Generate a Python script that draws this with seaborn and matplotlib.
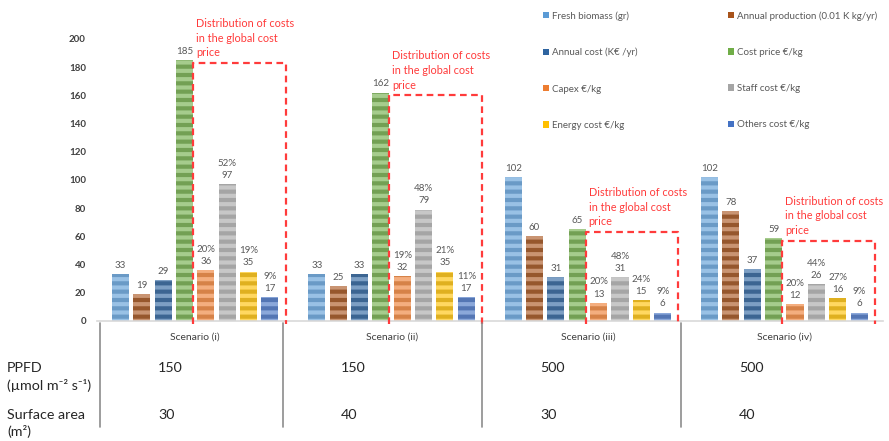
import matplotlib
matplotlib.use("Agg")
import matplotlib.pyplot as plt
import seaborn as sns
import pandas as pd
import numpy as np
from matplotlib.patches import Patch
from matplotlib.lines import Line2D
from matplotlib.colors import to_rgb

# ---- data -------------------------------------------------------------
scenarios = ["Scenario (i)", "Scenario (ii)", "Scenario (iii)", "Scenario (iv)"]
ppfd = ["150", "150", "500", "500"]
surface_area = ["30", "40", "30", "40"]

metrics = [
    "Fresh biomass (gr)",
    "Annual production (0.01 K kg/yr)",
    "Annual cost (K€ /yr)",
    "Cost price €/kg",
    "Capex €/kg",
    "Staff cost €/kg",
    "Energy cost €/kg",
    "Others cost €/kg",
]

fresh_biomass = [33, 33, 102, 102]
annual_production = [19, 25, 60, 78]
annual_cost = [29, 33, 31, 37]
cost_price = [185, 162, 65, 59]
capex = [36, 32, 13, 12]
staff_cost = [97, 79, 31, 26]
energy_cost = [35, 35, 15, 16]
others_cost = [17, 17, 6, 6]

# share of each cost item in the global cost price (%)
capex_share = [20, 19, 20, 20]
staff_share = [52, 48, 48, 44]
energy_share = [19, 21, 24, 27]
others_share = [9, 11, 9, 9]

colors = ["#5B9BD5", "#A8531B", "#2E64A0", "#70AD47",
          "#ED7D31", "#A5A5A5", "#FFC000", "#4472C4"]

series = [fresh_biomass, annual_production, annual_cost, cost_price,
          capex, staff_cost, energy_cost, others_cost]
shares = [None, None, None, None,
          capex_share, staff_share, energy_share, others_share]

df = pd.DataFrame(
    [(s, m, v) for m, vals in zip(metrics, series) for s, v in zip(scenarios, vals)],
    columns=["scenario", "metric", "value"],
)

# ---- style -------------------------------------------------------------
sns.set_theme(style="white")
plt.rcParams["font.family"] = ["Lato", "DejaVu Sans"]
plt.rcParams["hatch.linewidth"] = 3.0

W, H = 889, 441
fig = plt.figure(figsize=(W / 100, H / 100), dpi=100)
fig.patch.set_facecolor("white")
ax = fig.add_axes([97 / W, 120 / H, (882.5 - 97) / W, 282 / H])


def lighten(c, f):
    r, g, b = to_rgb(c)
    return (r + (1 - r) * f, g + (1 - g) * f, b + (1 - b) * f)


sns.barplot(data=df, x="scenario", y="value", hue="metric", hue_order=metrics,
            order=scenarios, palette=colors, width=0.87, gap=0.2,
            legend=False, ax=ax, errorbar=None)

# striped fill on every bar
for cont, col in zip(ax.containers, colors):
    for p in cont:
        p.set_hatch("--")
        p.set_edgecolor(lighten(col, 0.38))
        p.set_linewidth(0)

# value labels (with shares for the cost items)
txt_col = "#595959"
for cont, vals, sh in zip(ax.containers, series, shares):
    if sh is None:
        labels = [f"{v}" for v in vals]
    else:
        labels = [f"{s}%\n{v}" for v, s in zip(vals, sh)]
    ax.bar_label(cont, labels=labels, padding=3, fontsize=7, color=txt_col,
                 linespacing=1.45)

# dashed frame around the cost breakdown of each scenario
red = "#FF3B3B"
green_bars = ax.containers[metrics.index("Cost price €/kg")]
for i, (p, cp) in enumerate(zip(green_bars, cost_price)):
    x0 = p.get_x() + p.get_width()
    x1 = i + 0.46
    top = cp - 2
    ax.plot([x0, x0, x1, x1], [-2, top, top, -2], color=red, lw=1.6,
            dashes=(3, 2), clip_on=False, zorder=5, scalex=False, scaley=False)
    ax.annotate("Distribution of costs\nin the global cost\nprice",
                xy=(x0, top), xytext=(2, 3.5), textcoords="offset points",
                ha="left", va="bottom", color=red, fontsize=7.8,
                linespacing=1.4, annotation_clip=False)

ax.set_xlim(-0.5, 3.5)
ax.set_ylim(0, 200)
ax.set_yticks(np.arange(0, 201, 20))
ax.set_xlabel("")
ax.set_ylabel("")
for s in ["top", "right", "left"]:
    ax.spines[s].set_visible(False)
ax.spines["bottom"].set_color("#D9D9D9")
ax.spines["bottom"].set_linewidth(1.2)
ax.tick_params(axis="y", length=0, pad=8, labelsize=7, labelcolor="#404040")
ax.tick_params(axis="x", length=0, pad=8, labelsize=7.5, labelcolor="#404040")
for t in ax.get_yticklabels():
    t.set_fontweight("bold")

# legend in two columns of four
handles = [Patch(facecolor=c, edgecolor="none") for c in colors]
for col, x_px in ((0, 543), (1, 728)):
    idx = [col, col + 2, col + 4, col + 6]
    leg = fig.legend([handles[k] for k in idx], [metrics[k] for k in idx],
                     loc="upper left", bbox_to_anchor=(x_px / W, 1 - 11 / H),
                     frameon=False, fontsize=7, labelcolor=txt_col,
                     handlelength=0.65, handleheight=0.65, handletextpad=0.3,
                     borderpad=0, borderaxespad=0, labelspacing=2.8)

# parameter table under the chart
def fx(x):
    return x / W


def fy(y):
    return 1 - y / H


for x in (100, 283, 482, 681):
    fig.add_artist(Line2D([fx(x), fx(x)], [fy(323), fy(427)],
                          color="#8C8C8C", lw=1.2))

row_col = "#262626"
fs = 10.3
fig.text(fx(7), fy(368), "PPFD", fontsize=fs, color=row_col, va="center")
fig.text(fx(7), fy(385), "(µmol m⁻² s⁻¹)", fontsize=fs, color=row_col, va="center")
fig.text(fx(7), fy(415), "Surface area", fontsize=fs, color=row_col, va="center")
fig.text(fx(7), fy(432), "(m²)", fontsize=fs, color=row_col, va="center")
for x, pp, sa in zip((100, 283, 482, 681), ppfd, surface_area):
    fig.text(fx(x + 58), fy(368), pp, fontsize=fs, color=row_col, va="center")
    fig.text(fx(x + 58), fy(415), sa, fontsize=fs, color=row_col, va="center")

fig.savefig("out.png", dpi=100, facecolor="white")
